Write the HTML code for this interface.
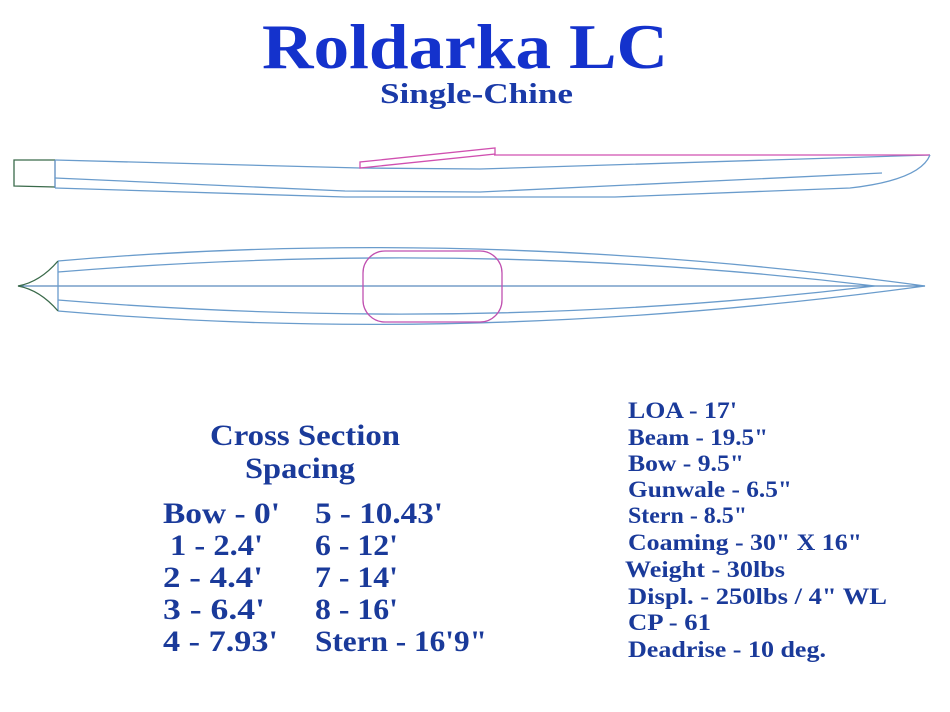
<!DOCTYPE html>
<html><head><meta charset="utf-8"><style>
html,body{margin:0;padding:0;background:#fff;width:950px;height:712px;overflow:hidden}
svg{display:block}
text{font-family:"Liberation Serif",serif;font-weight:bold}
</style></head><body>
<svg width="950" height="712" viewBox="0 0 950 712">
<g fill="#1432cc">
<text x="262" y="68" font-size="64" textLength="406" lengthAdjust="spacingAndGlyphs">Roldarka LC</text>
<text x="380" y="103" font-size="29" fill="#1a3aa8" textLength="193" lengthAdjust="spacingAndGlyphs">Single-Chine</text>
</g>
<g fill="none" stroke-width="1.3">
<path d="M55,160 L14,160 L14,186 L55,187" stroke="#3a6a4a"/>
<path d="M55,160 L55,188" stroke="#5a8abe"/>
<path d="M55,160 L360,168 L480,169 L930,155" stroke="#6a9ccc"/>
<path d="M494,155 L930,155" stroke="#d050b0"/>
<path d="M360,168 L360,162 L495,148 L495,154 Z" stroke="#d050b0"/>
<path d="M55,178 L345,191 L480,192 L882,173" stroke="#6a9ccc"/>
<path d="M55,188 L345,197 L615,197 L850,188 Q920,180 930,155" stroke="#6a9ccc"/>
</g>
<g fill="none" stroke-width="1.3">
<path d="M18,286 L925,286" stroke="#5a8abe"/>
<path d="M58,261 Q475,225 925,286 Q475,347 58,311" stroke="#6a9ccc"/>
<path d="M58,272 Q475,238 875,286 Q475,334 58,300" stroke="#6a9ccc"/>
<path d="M58,261 L58,311" stroke="#6a9ccc"/>
<path d="M58,261 Q40,282 18,286 Q40,290 58,311" stroke="#3a6a4a"/>
<rect x="363" y="251" width="139" height="71" rx="22" stroke="#c050b0"/>
</g>
<g fill="#1a3a9a">
<text x="210" y="445" font-size="30" textLength="190" lengthAdjust="spacingAndGlyphs">Cross Section</text>
<text x="245" y="478" font-size="30" textLength="110" lengthAdjust="spacingAndGlyphs">Spacing</text>
<g font-size="30">
<text x="163" y="523" textLength="117" lengthAdjust="spacingAndGlyphs">Bow - 0'</text>
<text x="170" y="555" textLength="93" lengthAdjust="spacingAndGlyphs">1 - 2.4'</text>
<text x="163" y="587" textLength="100" lengthAdjust="spacingAndGlyphs">2 - 4.4'</text>
<text x="163" y="619" textLength="102" lengthAdjust="spacingAndGlyphs">3 - 6.4'</text>
<text x="163" y="651" textLength="115" lengthAdjust="spacingAndGlyphs">4 - 7.93'</text>
<text x="315" y="523" textLength="128" lengthAdjust="spacingAndGlyphs">5 - 10.43'</text>
<text x="315" y="555" textLength="83" lengthAdjust="spacingAndGlyphs">6 - 12'</text>
<text x="315" y="587" textLength="83" lengthAdjust="spacingAndGlyphs">7 - 14'</text>
<text x="315" y="619" textLength="83" lengthAdjust="spacingAndGlyphs">8 - 16'</text>
<text x="315" y="651" textLength="172" lengthAdjust="spacingAndGlyphs">Stern - 16'9"</text>
</g>
</g>
<g fill="#1a3a9a" font-size="23">
<text x="628" y="418" textLength="109" lengthAdjust="spacingAndGlyphs">LOA - 17'</text>
<text x="628" y="445" textLength="140" lengthAdjust="spacingAndGlyphs">Beam - 19.5"</text>
<text x="628" y="471" textLength="116" lengthAdjust="spacingAndGlyphs">Bow - 9.5"</text>
<text x="628" y="497" textLength="164" lengthAdjust="spacingAndGlyphs">Gunwale - 6.5"</text>
<text x="628" y="523" textLength="119" lengthAdjust="spacingAndGlyphs">Stern - 8.5"</text>
<text x="628" y="550" textLength="234" lengthAdjust="spacingAndGlyphs">Coaming - 30" X 16"</text>
<text x="625" y="577" textLength="160" lengthAdjust="spacingAndGlyphs">Weight - 30lbs</text>
<text x="628" y="604" textLength="259" lengthAdjust="spacingAndGlyphs">Displ. - 250lbs / 4" WL</text>
<text x="628" y="630" textLength="83" lengthAdjust="spacingAndGlyphs">CP - 61</text>
<text x="628" y="657" textLength="198" lengthAdjust="spacingAndGlyphs">Deadrise - 10 deg.</text>
</g>
</svg>
</body></html>
